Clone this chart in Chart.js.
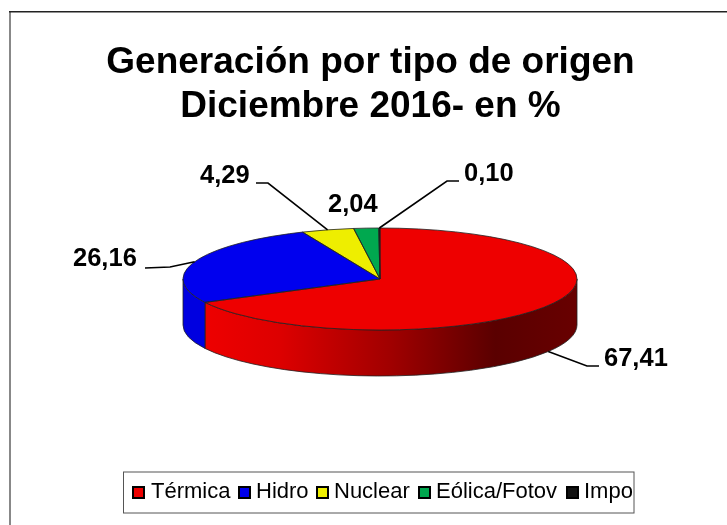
<!DOCTYPE html>
<html>
<head>
<meta charset="utf-8">
<style>
  html, body { margin: 0; padding: 0; background: #fff; }
  #wrap { position: absolute; left: 0; top: 0; width: 727px; height: 525px; }
</style>
<script src="https://cdn.jsdelivr.net/npm/chart.js@4"></script>
</head>
<body>
<div id="wrap"><canvas id="pie-chart" width="727" height="525"></canvas></div>
<script>
const categories = ["Térmica", "Hidro", "Nuclear", "Eólica/Fotov", "Impo"];
const values = [67.41, 26.16, 4.29, 2.04, 0.10];
const colors = ["#ee0000", "#0000ee", "#eeee00", "#00a84f", "#111111"];
const wallColors = [null, "#0000e0", "#d8d800", "#009040", "#000000"];
const titleLines = ["Generación por tipo de origen", "Diciembre 2016- en %"];

// where the flattened pie sits on the page
const pie = { cx: 380, cy: 279, rx: 197, ry: 51, depth: 46 };

// label text anchor + elbow of the leader line, one per slice
const labelSpots = [
  { x: 604, y: 359, elbow: [[599, 366], [587, 366]] },
  { x: 73,  y: 259, elbow: [[145, 268], [170, 267]] },
  { x: 200, y: 176, elbow: [[256, 183], [268, 183]] },
  { x: 328, y: 205, elbow: null },
  { x: 464, y: 174, elbow: [[459, 181], [447, 181]] }
];

const legendBox = { left: 123.5, top: 472, right: 634, bottom: 513 };
const legendX = [133, 239, 317, 419, 567];
const legendTextX = [151, 256, 334, 436, 584];

function formatValue(v) {
  return v.toFixed(2).replace(".", ",");
}

function arcPoint(a, yOff) {
  return [pie.cx + Math.cos(a) * pie.rx, pie.cy + Math.sin(a) * pie.ry + (yOff || 0)];
}

const pie3d = {
  id: "pie3d",
  beforeDraw(chart) {
    const c = chart.ctx;
    c.save();
    c.fillStyle = "#fff";
    c.fillRect(0, 0, chart.width, chart.height);
    // only the top and left edges of the frame show in the source
    c.fillStyle = "#888";
    c.fillRect(9, 11, 2, chart.height - 11);
    c.fillStyle = "#222";
    c.fillRect(9, 11, chart.width - 9, 1.5);
    c.restore();
  },
  beforeDatasetsDraw(chart) {
    const c = chart.ctx;
    const arcs = chart.getDatasetMeta(0).data;
    // side wall, only the front half of the rim shows
    arcs.forEach((arc, i) => {
      const start = Math.max(arc.startAngle, 0);
      const end = Math.min(arc.endAngle, Math.PI);
      if (end <= start) return;
      c.save();
      c.beginPath();
      c.ellipse(pie.cx, pie.cy, pie.rx, pie.ry, 0, start, end);
      c.ellipse(pie.cx, pie.cy + pie.depth, pie.rx, pie.ry, 0, end, start, true);
      c.closePath();
      if (i === 0) {
        const g = c.createLinearGradient(205, 0, 577, 0);
        g.addColorStop(0, "#ee0000");
        g.addColorStop(0.2, "#dd0000");
        g.addColorStop(0.5, "#a00000");
        g.addColorStop(0.78, "#5a0000");
        g.addColorStop(1, "#680000");
        c.fillStyle = g;
      } else {
        c.fillStyle = wallColors[i];
      }
      c.fill();
      c.strokeStyle = "#222";
      c.lineWidth = 0.8;
      c.stroke();
      c.restore();
    });
    // squash the library's round pie into the ellipse
    const first = arcs[0];
    const r = first.outerRadius;
    c.save();
    c.translate(pie.cx, pie.cy);
    c.scale(pie.rx / r, pie.ry / r);
    c.translate(-first.x, -first.y);
  },
  afterDatasetsDraw(chart) {
    const c = chart.ctx;
    c.restore();
    const arcs = chart.getDatasetMeta(0).data;

    // thin outline on top of the slices
    c.save();
    c.strokeStyle = "#222";
    c.lineWidth = 0.8;
    arcs.forEach((arc) => {
      c.beginPath();
      c.moveTo(pie.cx, pie.cy);
      c.ellipse(pie.cx, pie.cy, pie.rx, pie.ry, 0, arc.startAngle, arc.endAngle);
      c.closePath();
      c.stroke();
    });
    c.restore();

    // value labels and leader lines
    c.save();
    c.font = "bold 25.5px 'Liberation Sans', Arial, sans-serif";
    c.textBaseline = "middle";
    c.textAlign = "left";
    c.fillStyle = "#000";
    c.strokeStyle = "#000";
    c.lineWidth = 1.6;
    arcs.forEach((arc, i) => {
      const spot = labelSpots[i];
      c.fillText(formatValue(values[i]), spot.x, spot.y);
      if (!spot.elbow) return;
      const mid = (arc.startAngle + arc.endAngle) / 2;
      const yOff = i === 0 ? pie.depth : 0;
      const tip = arcPoint(mid, yOff);
      c.beginPath();
      c.moveTo(spot.elbow[0][0], spot.elbow[0][1]);
      c.lineTo(spot.elbow[1][0], spot.elbow[1][1]);
      c.lineTo(tip[0], tip[1]);
      c.stroke();
    });
    c.restore();

    // legend
    c.save();
    c.fillStyle = "#fff";
    c.strokeStyle = "#555";
    c.lineWidth = 1;
    c.fillRect(legendBox.left, legendBox.top, legendBox.right - legendBox.left, legendBox.bottom - legendBox.top);
    c.strokeRect(legendBox.left, legendBox.top, legendBox.right - legendBox.left, legendBox.bottom - legendBox.top);
    c.font = "22px 'Liberation Sans', Arial, sans-serif";
    c.textBaseline = "middle";
    c.textAlign = "left";
    const midY = 492.5;
    categories.forEach((name, i) => {
      const x = legendX[i];
      c.fillStyle = colors[i];
      c.strokeStyle = "#000";
      c.lineWidth = 2;
      c.fillRect(x, midY - 5.5, 11, 11);
      c.strokeRect(x, midY - 5.5, 11, 11);
      c.fillStyle = "#000";
      c.fillText(name, legendTextX[i], midY - 0.5);
    });
    c.restore();
  }
};

new Chart(document.getElementById("pie-chart"), {
  type: "pie",
  data: {
    labels: categories,
    datasets: [{
      data: values,
      backgroundColor: colors,
      borderWidth: 0
    }]
  },
  options: {
    responsive: false,
    animation: false,
    layout: { padding: { top: 31, left: 14 } },
    plugins: {
      legend: { display: false },
      tooltip: { enabled: false },
      title: {
        display: true,
        text: titleLines,
        color: "#000",
        font: { family: "'Liberation Sans', Arial, sans-serif", size: 37, weight: "bold", lineHeight: 1.19 }
      }
    }
  },
  plugins: [pie3d]
});
</script>
</body>
</html>
